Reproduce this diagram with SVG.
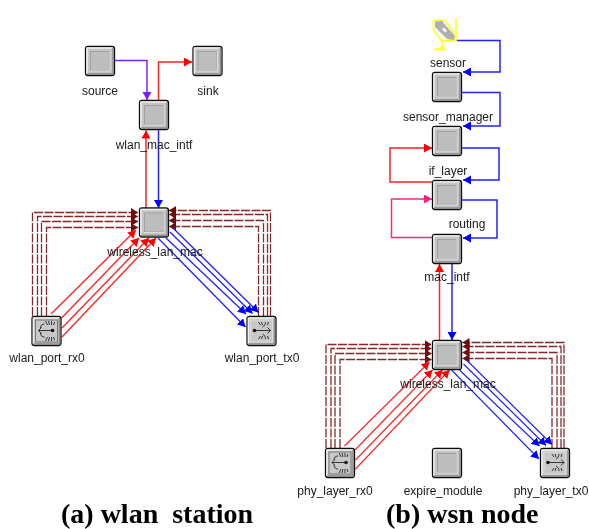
<svg xmlns="http://www.w3.org/2000/svg" width="589" height="529" viewBox="0 0 589 529">
<style>
.l{font-family:"Liberation Sans",Arial,sans-serif;font-size:12px;fill:#1a1a1a;text-anchor:middle}
.c{font-family:"Liberation Serif","Times New Roman",serif;font-size:28px;font-weight:bold;fill:#000;white-space:pre}
.w{fill:none;stroke-width:1.5}
.t{fill:none;stroke-width:1.3}
.s{fill:none;stroke-width:1.1}
.r{stroke:#ff2020}.b{stroke:#2020ff}
.d{fill:none;stroke:#852a2a;stroke-width:1.3;stroke-dasharray:9 1.5}
.ma{marker-end:url(#ah-red)}.mb{marker-end:url(#ah-blue)}.md{marker-end:url(#ah-dark)}
.gl{fill:none;stroke:#222;stroke-width:.9}
</style>
<defs>
<filter id="soft" x="0" y="0" width="100%" height="100%"><feGaussianBlur stdDeviation="0.4"/></filter>
<marker id="ah-red" markerUnits="userSpaceOnUse" markerWidth="10" markerHeight="10" refX="8" refY="4.500" orient="auto"><path d="M0 0L8 4.500L0 9z" fill="#f00"/></marker>
<marker id="ah-blue" markerUnits="userSpaceOnUse" markerWidth="10" markerHeight="10" refX="8" refY="4.500" orient="auto"><path d="M0 0L8 4.500L0 9z" fill="#00f"/></marker>
<marker id="ah-purple" markerUnits="userSpaceOnUse" markerWidth="10" markerHeight="10" refX="8" refY="4.500" orient="auto"><path d="M0 0L8 4.500L0 9z" fill="#7f1fff"/></marker>
<marker id="ah-pink" markerUnits="userSpaceOnUse" markerWidth="10" markerHeight="10" refX="8" refY="4.500" orient="auto"><path d="M0 0L8 4.500L0 9z" fill="#ff1f7f"/></marker>
<marker id="ah-dark" markerUnits="userSpaceOnUse" markerWidth="10" markerHeight="10" refX="7" refY="4.500" orient="auto"><path d="M0 0L7 4.500L0 9z" fill="#6e0f0f"/></marker>
<g id="face">
<rect x=".5" y=".5" width="29" height="29" rx="2.500" fill="#c4c4c4" stroke="#111" stroke-width="1.300"/>
<path d="M2 28V2H28" fill="none" stroke="#ededed" stroke-width="1.500"/>
<path d="M2 28H28V2" fill="none" stroke="#8c8c8c" stroke-width="1.500"/>
<rect x="5.500" y="5.500" width="19" height="19" fill="#bdbdbd" stroke="#a0a0a0"/>
<path d="M25 5V25H5" fill="none" stroke="#dedede"/>
</g>
<g id="rx">
<use href="#face"/>
<rect x="4" y="4" width="22" height="22" fill="#c8c8c8" stroke="#666" stroke-width=".8"/>
<path class="gl" d="M21 14.500H7M10 11.500L7 14.500L10 17.500M9 12C9 9 11 8 13 8M9 17C9 20 11 21 13 21M14 5L16 9M17 5L18 9M20 5L20 9M23 6L22 9M14 25L16 21M17 25L18 21M20 25L20 21M23 24L22 21"/>
<circle cx="21" cy="14.500" r="1.800" fill="#111"/>
</g>
<g id="tx">
<use href="#face"/>
<rect x="4" y="4" width="22" height="22" fill="#c8c8c8" stroke="#e0e0e0" stroke-width=".8"/>
<path class="gl" d="M8 14.500H24M21 11.500L24 14.500L21 17.500M16 11C18 10 19 8 19 6M16 18C18 19 19 21 19 23M12 6L14 9M15 6L16 9M22 6L21 9M12 23L14 20M15 23L16 20M22 23L21 20"/>
<circle cx="8" cy="14.500" r="1.800" fill="#111"/>
</g>
</defs>
<rect width="589" height="529" fill="#fff"/>
<g filter="url(#soft)">
<g id="connectors">
<path class="w" stroke="#7f1fff" marker-end="url(#ah-purple)" d="M115 60.500H147V100"/>
<path class="w r ma" d="M158.500 100V62H192"/>
<path class="w r ma" d="M146 208V130.500"/>
<path class="w b mb" d="M158.500 130V208"/>
<g id="bundle-a">
<path class="d md" d="M32.500 316V212.500H138"/>
<path class="d md" d="M37.500 316V216.500H138"/>
<path class="d md" d="M41.500 316V221.500H138"/>
<path class="d md" d="M46.500 316V227.500H138"/>
<path class="d md" d="M270.500 316V210.500H169"/>
<path class="d md" d="M267.500 316V214.500H169"/>
<path class="d md" d="M263.500 316V220.500H169"/>
<path class="d md" d="M258.500 316V226.500H169"/>
<path class="t r ma" d="M51 314L136 230"/>
<path class="t r ma" d="M61.500 318L139 238"/>
<path class="t r ma" d="M62 328L149 238"/>
<path class="t r ma" d="M62 337L156 238"/>
<path class="t b mb" d="M173 228L258.500 312.500"/>
<path class="t b mb" d="M170 232L252.500 313.500"/>
<path class="t b mb" d="M166 238L246 314"/>
<path class="t b mb" d="M158 238L245.500 327"/>
</g>
<path class="w b mb" d="M455 40.500H500V72H463"/>
<path class="w b mb" d="M462 92.500H500V126H463"/>
<path class="w b mb" d="M462 148H499V180H463"/>
<path class="w b mb" d="M462 200H497V238H463"/>
<path class="w r ma" d="M432 182H390V148H432"/>
<path class="w" stroke="#ff2a7f" marker-end="url(#ah-pink)" d="M432 237.500H391.500V199H432"/>
<path class="w r ma" d="M439.500 340V264"/>
<path class="w b mb" d="M452 264V340"/>
<g id="bundle-b" transform="translate(293.500 132)">
<path class="d md" d="M32.500 316V212.500H138"/>
<path class="d md" d="M37.500 316V216.500H138"/>
<path class="d md" d="M41.500 316V221.500H138"/>
<path class="d md" d="M46.500 316V227.500H138"/>
<path class="d md" d="M270.500 316V210.500H169"/>
<path class="d md" d="M267.500 316V214.500H169"/>
<path class="d md" d="M263.500 316V220.500H169"/>
<path class="d md" d="M258.500 316V226.500H169"/>
<path class="s r ma" d="M51 314L136 230"/>
<path class="s r ma" d="M61.500 318L139 238"/>
<path class="s r ma" d="M62 328L149 238"/>
<path class="s r ma" d="M62 337L156 238"/>
<path class="s b mb" d="M173 228L258.500 312.500"/>
<path class="s b mb" d="M170 232L252.500 313.500"/>
<path class="s b mb" d="M166 238L246 314"/>
<path class="s b mb" d="M158 238L245.500 327"/>
</g>
</g>
<g id="source"><use href="#face" x="85" y="46"/><text class="l" x="100" y="95">source</text></g>
<g id="sink"><use href="#face" x="192.500" y="46"/><text class="l" x="208" y="95">sink</text></g>
<g id="wlan_mac_intf"><use href="#face" x="139" y="100"/><text class="l" x="154" y="149">wlan_mac_intf</text></g>
<g id="wireless_lan_mac_a"><use href="#face" x="139" y="207.500"/><text class="l" x="155" y="256">wireless_lan_mac</text></g>
<g id="wlan_port_rx0"><use href="#rx" x="31.500" y="316"/><text class="l" x="47" y="362">wlan_port_rx0</text></g>
<g id="wlan_port_tx0"><use href="#tx" x="246.500" y="316"/><text class="l" x="262" y="362">wlan_port_tx0</text></g>
<g id="sensor">
<path d="M434 49.500H445L442.500 47L441.500 40.500H456V18M441.500 40.500L433.500 30V20.500H445L456 36M438 49.500L441 47" fill="none" stroke="#ffff30" stroke-width="1.800"/>
<path d="M453 13.500h1M459 16.500h1" stroke="#ffff30" stroke-width="2" fill="none"/>
<path d="M435 21.500L442 21L455 36L454 40L447 39L435 27z" fill="#b0b0b0"/>
<ellipse cx="444.500" cy="30" rx="2.500" ry="1.500" transform="rotate(45 444.500 30)" fill="#fff"/>
<text class="l" x="448" y="67">sensor</text>
</g>
<g id="sensor_manager"><use href="#face" x="432" y="72"/><text class="l" x="448" y="121">sensor_manager</text></g>
<g id="if_layer"><use href="#face" x="432" y="126"/><text class="l" x="448" y="175">if_layer</text></g>
<g id="routing"><use href="#face" x="432" y="180"/><text class="l" x="467" y="228">routing</text></g>
<g id="mac_intf"><use href="#face" x="432" y="234"/><text class="l" x="447" y="281">mac_intf</text></g>
<g id="wireless_lan_mac_b"><use href="#face" x="432" y="340"/><text class="l" x="448" y="388">wireless_lan_mac</text></g>
<g id="phy_layer_rx0"><use href="#rx" x="325" y="448"/><text class="l" x="335" y="495">phy_layer_rx0</text></g>
<g id="expire_module"><use href="#face" x="432" y="448"/><text class="l" x="443" y="495">expire_module</text></g>
<g id="phy_layer_tx0"><use href="#tx" x="540" y="448"/><text class="l" x="551" y="495">phy_layer_tx0</text></g>
<text class="c" x="61" y="523">(a) wlan  station</text>
<text class="c" x="386" y="523">(b) wsn node</text>
</g>
</svg>
